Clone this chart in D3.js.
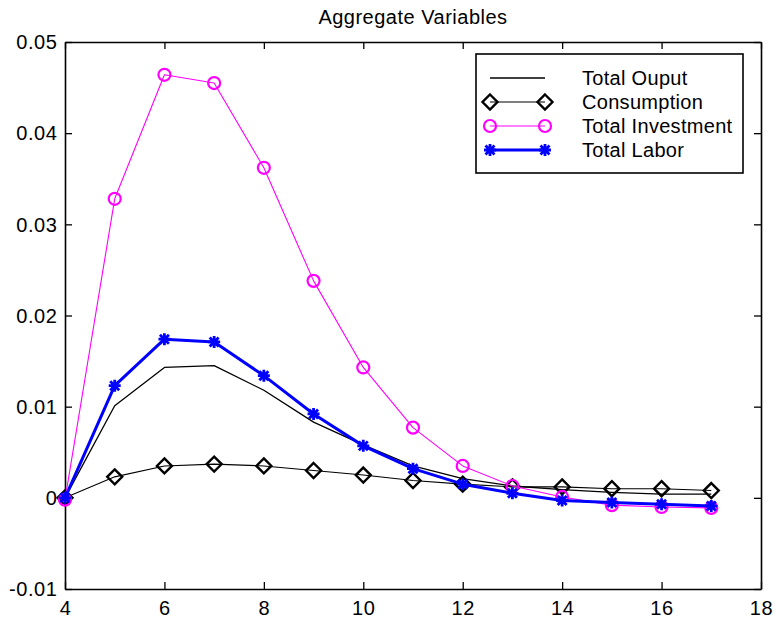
<!DOCTYPE html>
<html>
<head>
<meta charset="utf-8">
<script src="https://cdn.jsdelivr.net/npm/d3@7"></script>
<style>
    body { margin: 0; background: #fff; }
    text { font-family: "Liberation Sans", Arial, sans-serif; fill: #000; }
</style>
</head>
<body>
<script>
// periods on the x axis
const periods = [4, 5, 6, 7, 8, 9, 10, 11, 12, 13, 14, 15, 16, 17];

// series values
const totalOutput = [0, 0.0101, 0.0143, 0.0145, 0.0118, 0.0083, 0.0058, 0.0035, 0.0021, 0.0013, 0.0009, 0.0006, 0.0004, 0.0004];
const consumption = [0, 0.0023, 0.0035, 0.0037, 0.0035, 0.0030, 0.0025, 0.0019, 0.0015, 0.0012, 0.0012, 0.0010, 0.0010, 0.0008];
const totalInvestment = [-0.0002, 0.0328, 0.0464, 0.0455, 0.0362, 0.0238, 0.0143, 0.0077, 0.0035, 0.0013, 0.0001, -0.0008, -0.0010, -0.0011];
const totalLabor = [0, 0.0123, 0.0174, 0.0171, 0.0134, 0.0092, 0.0057, 0.0032, 0.0015, 0.0005, -0.0003, -0.0005, -0.0007, -0.0009];

const xTicks = [4, 6, 8, 10, 12, 14, 16, 18];
const yTicks = [-0.01, 0, 0.01, 0.02, 0.03, 0.04, 0.05];
const yTickLabels = ["-0.01", "0", "0.01", "0.02", "0.03", "0.04", "0.05"];
const seriesNames = ["Total Ouput", "Consumption", "Total Investment", "Total Labor"];

const svgWidth = 775, svgHeight = 621;
const plotLeft = 65, plotRight = 761, plotTop = 42, plotBottom = 589;

const svg = d3.select("body")
    .append("svg")
    .attr("width", svgWidth)
    .attr("height", svgHeight);

const xScale = d3.scaleLinear().domain([4, 18]).range([plotLeft, plotRight]);
const yScale = d3.scaleLinear().domain([-0.01, 0.05]).range([plotBottom, plotTop]);

// title
svg.append("text")
    .attr("x", (plotLeft + plotRight) / 2)
    .attr("y", 24)
    .attr("text-anchor", "middle")
    .style("font-size", "20px")
    .style("letter-spacing", "0.5px")
    .text("Aggregate Variables");

// axes, ticks inside on all four sides (matlab box)
const tickLen = 7;
const axisBottom = svg.append("g").attr("transform", `translate(0,${plotBottom})`)
    .call(d3.axisBottom(xScale).tickValues(xTicks).tickSizeInner(-tickLen).tickSizeOuter(0).tickPadding(12).tickFormat(d3.format("d")));
const axisTop = svg.append("g").attr("transform", `translate(0,${plotTop})`)
    .call(d3.axisTop(xScale).tickValues(xTicks).tickSizeInner(-tickLen).tickSizeOuter(0).tickFormat(""));
const axisLeft = svg.append("g").attr("transform", `translate(${plotLeft},0)`)
    .call(d3.axisLeft(yScale).tickValues(yTicks).tickSizeInner(-tickLen).tickSizeOuter(0).tickPadding(7.5)
        .tickFormat((d, i) => yTickLabels[i]));
const axisRight = svg.append("g").attr("transform", `translate(${plotRight},0)`)
    .call(d3.axisRight(yScale).tickValues(yTicks).tickSizeInner(-tickLen).tickSizeOuter(0).tickFormat(""));

[axisBottom, axisTop, axisLeft, axisRight].forEach(a => {
    a.select(".domain").attr("stroke", "#000").attr("stroke-width", 1.6);
    a.selectAll(".tick line").attr("stroke", "#000").attr("stroke-width", 1.3);
    a.selectAll("text").style("font-size", "20px").style("letter-spacing", "0.6px").attr("fill", "#000");
});
axisLeft.selectAll("text").attr("dy", "0.34em");
axisBottom.selectAll("text").attr("dy", "0.72em");

// markers
function diamond(g, x, y) {
    g.append("path")
        .attr("d", `M${x},${y - 7.5}L${x + 7.5},${y}L${x},${y + 7.5}L${x - 7.5},${y}Z`)
        .attr("fill", "none").attr("stroke", "#000").attr("stroke-width", 2.4);
}
function circle(g, x, y) {
    g.append("circle").attr("cx", x).attr("cy", y).attr("r", 6)
        .attr("fill", "none").attr("stroke", "#ff00ff").attr("stroke-width", 2.2);
}
function star(g, x, y) {
    const s = 6, d = 4.5;
    g.append("path")
        .attr("d", `M${x - s},${y}L${x + s},${y}M${x},${y - s}L${x},${y + s}M${x - d},${y - d}L${x + d},${y + d}M${x - d},${y + d}L${x + d},${y - d}`)
        .attr("fill", "none").attr("stroke", "#0000ff").attr("stroke-width", 2.8);
}

const series = [
    { values: totalOutput, color: "#000", width: 1.3, marker: null },
    { values: consumption, color: "#000", width: 1.1, marker: diamond },
    { values: totalInvestment, color: "#ff00ff", width: 1.1, marker: circle },
    { values: totalLabor, color: "#0000ff", width: 3, marker: star }
];

const line = d3.line().x((d, i) => xScale(periods[i])).y(d => yScale(d));

const plot = svg.append("g");
series.forEach(s => {
    const g = plot.append("g");
    g.append("path")
        .datum(s.values)
        .attr("d", line)
        .attr("fill", "none")
        .attr("stroke", s.color)
        .attr("stroke-width", s.width)
        .attr("stroke-linejoin", "round");
    if (s.marker) {
        s.values.forEach((v, i) => s.marker(g, xScale(periods[i]), yScale(v)));
    }
});

// legend
const legendX = 476, legendY = 54, legendW = 267, legendH = 119;
const legend = svg.append("g");
legend.append("rect")
    .attr("x", legendX).attr("y", legendY)
    .attr("width", legendW).attr("height", legendH)
    .attr("fill", "#fff").attr("stroke", "#000").attr("stroke-width", 1.6);

seriesNames.forEach((name, i) => {
    const s = series[i];
    const y = legendY + 24 + i * 24;
    const g = legend.append("g");
    g.append("line")
        .attr("x1", 490).attr("x2", 545).attr("y1", y).attr("y2", y)
        .attr("stroke", s.color).attr("stroke-width", s.width);
    if (s.marker) {
        s.marker(g, 490, y);
        s.marker(g, 545, y);
    }
    g.append("text")
        .attr("x", 582).attr("y", y)
        .attr("dy", "0.35em")
        .style("font-size", "20px")
        .style("letter-spacing", "0.3px")
        .text(name);
});
</script>
</body>
</html>
